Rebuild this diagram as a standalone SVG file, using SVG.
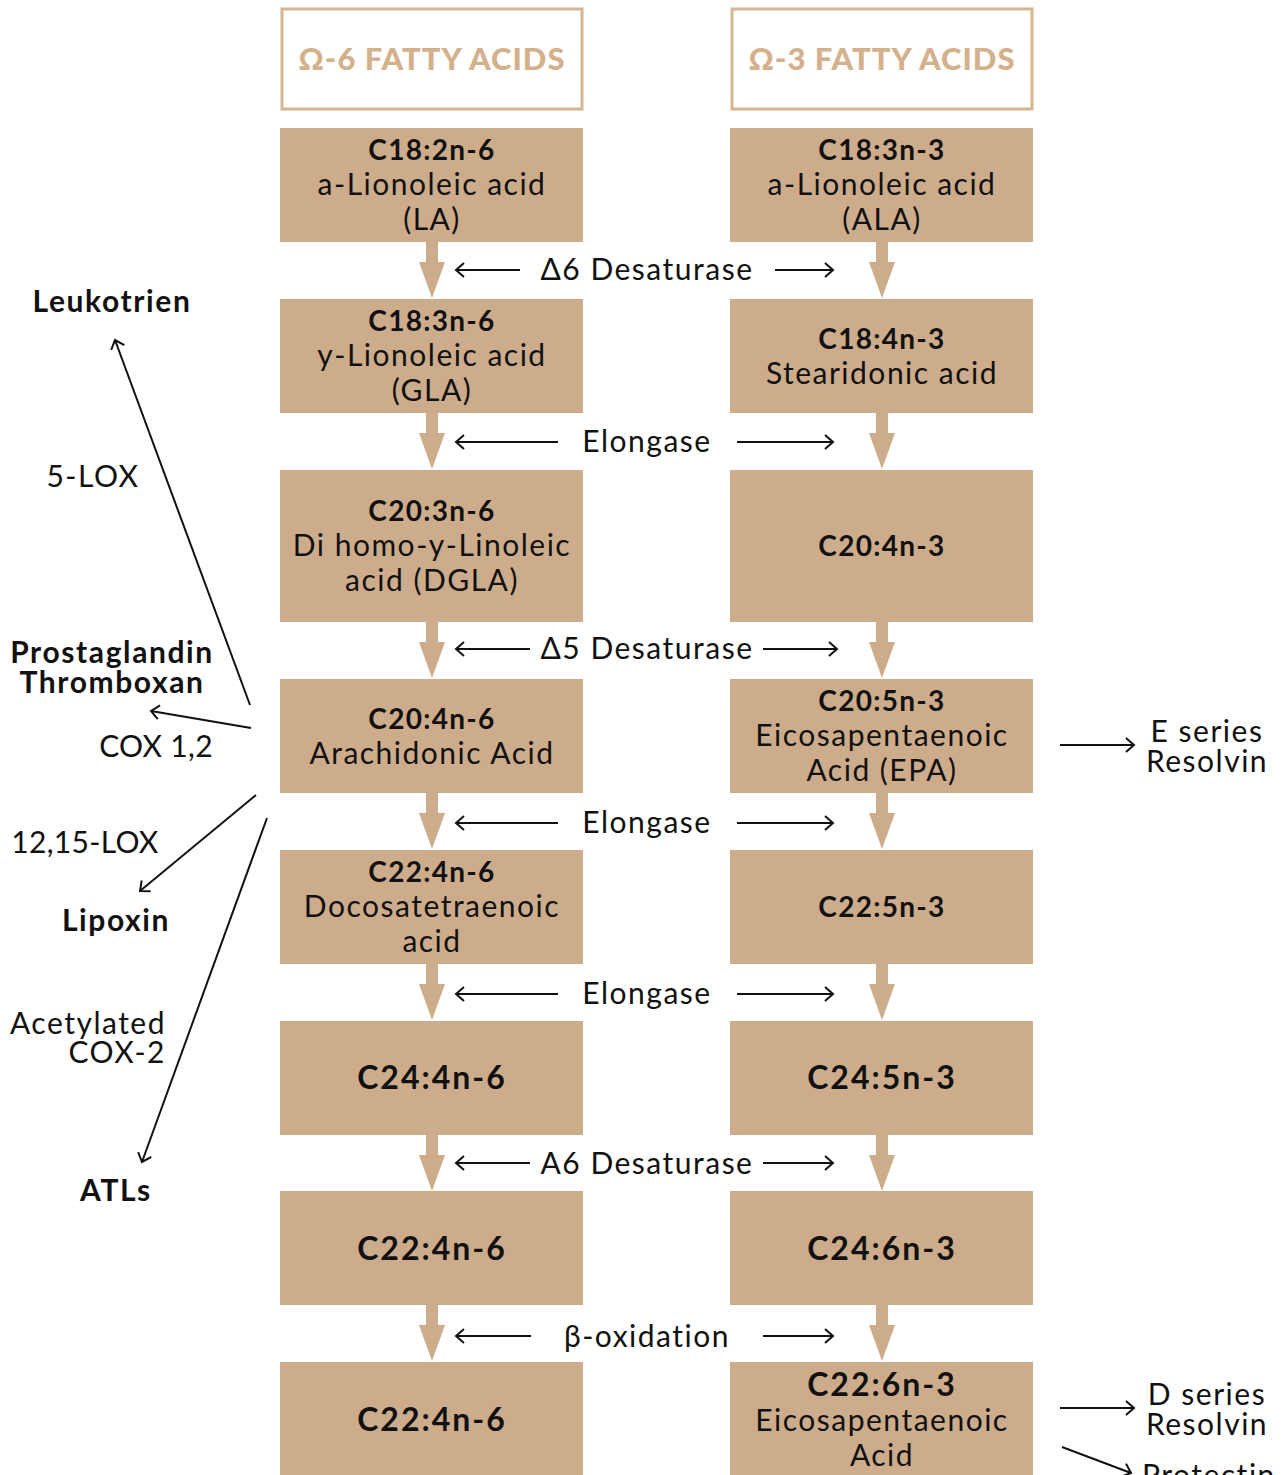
<svg xmlns="http://www.w3.org/2000/svg" width="1287" height="1475" viewBox="0 0 1287 1475">
<style>
.hdr{fill:#fff;stroke:#d6b591;stroke-width:3}
.hdrt{font-family:Lato,"Liberation Sans",sans-serif;font-weight:900;font-size:31px;letter-spacing:1px;fill:#d4b08b;text-anchor:middle}
.box{fill:#cdac8b}
.t{font-family:Lato,"Liberation Sans",sans-serif;font-size:30px;letter-spacing:1.5px;fill:#111;text-anchor:middle}
.b{font-weight:700;font-size:28px;letter-spacing:1.3px}
.big{font-size:32px;letter-spacing:2px}
.sb{font-weight:700;font-size:30px;letter-spacing:1.6px}
.num{letter-spacing:0.3px}
.conn{stroke:#111;stroke-width:2;fill:none;marker-end:url(#open)}
.va{fill:#cdac8b}
</style>
<defs>
<marker id="open" markerUnits="userSpaceOnUse" markerWidth="16" markerHeight="20" viewBox="-10 -10 16 20" refX="0" refY="0" orient="auto">
<path d="M-8,-7 L0,0 L-8,7" fill="none" stroke="#111" stroke-width="2"/>
</marker>
<path id="va" d="M-6,0 h12 v20 h7 l-13,36 l-13,-36 h7 z"/>
</defs>

<g id="header-omega6"><rect class="hdr" x="282" y="9" width="300" height="100"/><text class="hdrt" x="432" y="70">Ω-6 FATTY ACIDS</text></g>
<g id="header-omega3"><rect class="hdr" x="732" y="9" width="300" height="100"/><text class="hdrt" x="882" y="70">Ω-3 FATTY ACIDS</text></g>

<g id="n6-1"><rect class="box" x="280" y="128" width="303" height="114"/>
<text class="t b" x="432" y="160">C18:2n-6</text><text class="t" x="432" y="195">a-Lionoleic acid</text><text class="t" x="432" y="230">(LA)</text></g>
<g id="n6-2"><rect class="box" x="280" y="299" width="303" height="114"/>
<text class="t b" x="432" y="331">C18:3n-6</text><text class="t" x="432" y="366">y-Lionoleic acid</text><text class="t" x="432" y="401">(GLA)</text></g>
<g id="n6-3"><rect class="box" x="280" y="470" width="303" height="152"/>
<text class="t b" x="432" y="521">C20:3n-6</text><text class="t" x="432" y="556">Di homo-y-Linoleic</text><text class="t" x="432" y="591">acid (DGLA)</text></g>
<g id="n6-4"><rect class="box" x="280" y="679" width="303" height="114"/>
<text class="t b" x="432" y="729">C20:4n-6</text><text class="t" x="432" y="764">Arachidonic Acid</text></g>
<g id="n6-5"><rect class="box" x="280" y="850" width="303" height="114"/>
<text class="t b" x="432" y="882">C22:4n-6</text><text class="t" x="432" y="917">Docosatetraenoic</text><text class="t" x="432" y="952">acid</text></g>
<g id="n6-6"><rect class="box" x="280" y="1021" width="303" height="114"/>
<text class="t b big" x="432" y="1089">C24:4n-6</text></g>
<g id="n6-7"><rect class="box" x="280" y="1191" width="303" height="114"/>
<text class="t b big" x="432" y="1260">C22:4n-6</text></g>
<g id="n6-8"><rect class="box" x="280" y="1362" width="303" height="113"/>
<text class="t b big" x="432" y="1431">C22:4n-6</text></g>

<g id="n3-1"><rect class="box" x="730" y="128" width="303" height="114"/>
<text class="t b" x="882" y="160">C18:3n-3</text><text class="t" x="882" y="195">a-Lionoleic acid</text><text class="t" x="882" y="230">(ALA)</text></g>
<g id="n3-2"><rect class="box" x="730" y="299" width="303" height="114"/>
<text class="t b" x="882" y="349">C18:4n-3</text><text class="t" x="882" y="384">Stearidonic acid</text></g>
<g id="n3-3"><rect class="box" x="730" y="470" width="303" height="152"/>
<text class="t b" x="882" y="556">C20:4n-3</text></g>
<g id="n3-4"><rect class="box" x="730" y="679" width="303" height="114"/>
<text class="t b" x="882" y="711">C20:5n-3</text><text class="t" x="882" y="746">Eicosapentaenoic</text><text class="t" x="882" y="781">Acid (EPA)</text></g>
<g id="n3-5"><rect class="box" x="730" y="850" width="303" height="114"/>
<text class="t b" x="882" y="917">C22:5n-3</text></g>
<g id="n3-6"><rect class="box" x="730" y="1021" width="303" height="114"/>
<text class="t b big" x="882" y="1089">C24:5n-3</text></g>
<g id="n3-7"><rect class="box" x="730" y="1191" width="303" height="114"/>
<text class="t b big" x="882" y="1260">C24:6n-3</text></g>
<g id="n3-8"><rect class="box" x="730" y="1362" width="303" height="113"/>
<text class="t b big" x="882" y="1396">C22:6n-3</text><text class="t" x="882" y="1431">Eicosapentaenoic</text><text class="t" x="882" y="1466">Acid</text></g>

<g id="side-labels">
<text class="t sb" x="112" y="312">Leukotrien</text>
<text class="t" x="93" y="487">5-LOX</text>
<text class="t sb" x="112" y="663">Prostaglandin</text>
<text class="t sb" x="112" y="693">Thromboxan</text>
<text class="t num" x="156" y="757">COX 1,2</text>
<text class="t num" x="85" y="853">12,15-LOX</text>
<text class="t sb" x="116" y="931">Lipoxin</text>
<text class="t" x="166" y="1034" style="text-anchor:end">Acetylated</text>
<text class="t" x="166" y="1063" style="text-anchor:end">COX-2</text>
<text class="t sb" x="116" y="1201">ATLs</text>
<text class="t" x="1207" y="742">E series</text>
<text class="t" x="1207" y="772">Resolvin</text>
<text class="t" x="1207" y="1405">D series</text>
<text class="t" x="1207" y="1435">Resolvin</text>
<text class="t" x="1142" y="1486" style="text-anchor:start">Protectin</text>
</g>

<g id="enzymes">
<text class="t" x="647" y="280">Δ6 Desaturase</text>
<text class="t" x="647" y="452">Elongase</text>
<text class="t" x="647" y="659">Δ5 Desaturase</text>
<text class="t" x="647" y="833">Elongase</text>
<text class="t" x="647" y="1004">Elongase</text>
<text class="t" x="647" y="1174">A6 Desaturase</text>
<text class="t" x="647" y="1347">β-oxidation</text>
</g>

<g id="connectors">
<use href="#va" class="va" x="432" y="242"/><use href="#va" class="va" x="882" y="242"/>
<use href="#va" class="va" x="432" y="413"/><use href="#va" class="va" x="882" y="413"/>
<use href="#va" class="va" x="432" y="622"/><use href="#va" class="va" x="882" y="622"/>
<use href="#va" class="va" x="432" y="793"/><use href="#va" class="va" x="882" y="793"/>
<use href="#va" class="va" x="432" y="964"/><use href="#va" class="va" x="882" y="964"/>
<use href="#va" class="va" x="432" y="1135"/><use href="#va" class="va" x="882" y="1135"/>
<use href="#va" class="va" x="432" y="1305"/><use href="#va" class="va" x="882" y="1305"/>

<line class="conn" x1="520" y1="270" x2="456" y2="270"/><line class="conn" x1="775" y1="270" x2="833" y2="270"/>
<line class="conn" x1="558" y1="442" x2="456" y2="442"/><line class="conn" x1="737" y1="442" x2="833" y2="442"/>
<line class="conn" x1="530" y1="649" x2="456" y2="649"/><line class="conn" x1="763" y1="649" x2="837" y2="649"/>
<line class="conn" x1="558" y1="823" x2="456" y2="823"/><line class="conn" x1="737" y1="823" x2="833" y2="823"/>
<line class="conn" x1="558" y1="994" x2="456" y2="994"/><line class="conn" x1="737" y1="994" x2="833" y2="994"/>
<line class="conn" x1="530" y1="1163" x2="456" y2="1163"/><line class="conn" x1="763" y1="1163" x2="833" y2="1163"/>
<line class="conn" x1="531" y1="1336" x2="456" y2="1336"/><line class="conn" x1="763" y1="1336" x2="833" y2="1336"/>

<line class="conn" x1="250" y1="705" x2="115" y2="340"/>
<line class="conn" x1="251" y1="728" x2="151" y2="711"/>
<line class="conn" x1="256" y1="795" x2="140" y2="891"/>
<line class="conn" x1="267" y1="818" x2="142" y2="1162"/>

<line class="conn" x1="1060" y1="745" x2="1134" y2="745"/>
<line class="conn" x1="1060" y1="1408" x2="1134" y2="1408"/>
<line class="conn" x1="1062" y1="1447" x2="1131" y2="1473"/>
</g>
</svg>
